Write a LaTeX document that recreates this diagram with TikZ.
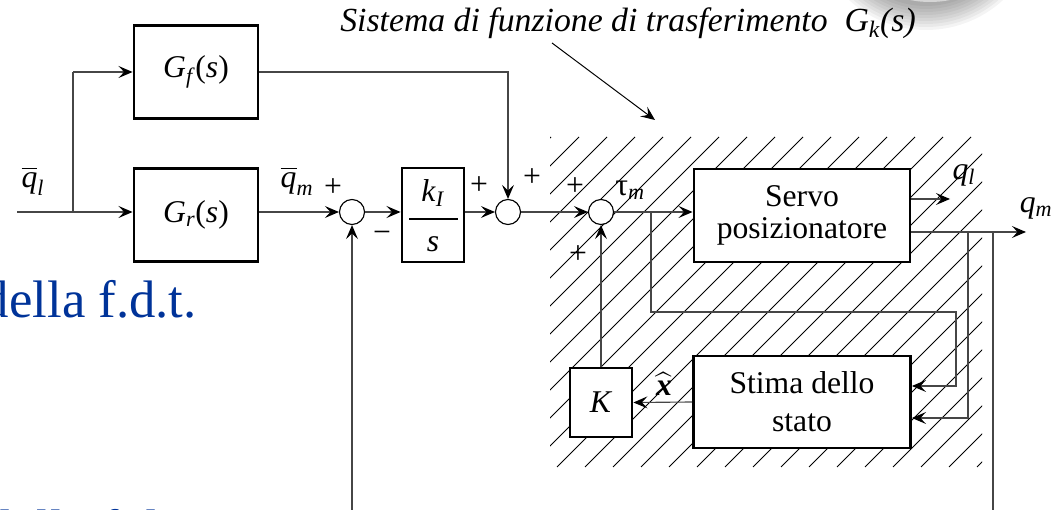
\documentclass[tikz,border=0pt]{standalone}
\usepackage{fontspec}
\usepackage{amsmath}
\setmainfont{Liberation Serif}
\usetikzlibrary{arrows.meta,calc}
\definecolor{slideblue}{RGB}{0,51,153}
\definecolor{linegray}{RGB}{70,70,70}
\tikzset{
  blk/.style={draw, line width=2pt, fill=white, inner sep=0pt, align=center},
  sumnode/.style={circle, draw, line width=0.8pt, fill=white, minimum size=0.625cm, inner sep=0pt},
  conn/.style={line width=0.8pt, draw=linegray},
  tip/.tip={Stealth[length=10pt,width=8.5pt,inset=4pt,black]},
  arr/.style={conn, -tip},
  hatchline/.style={line width=0.55pt, draw=black},
  lbl/.style={inner sep=0pt},
  every node/.style={font=\fontsize{22.5}{24}\selectfont}
}
\begin{document}
\begin{tikzpicture}[x=0.025cm, y=-0.025cm]
\useasboundingbox (0,0) rectangle (1057,510);
\clip (0,0) rectangle (1057,510);

% soft shadow at top right
\foreach \r in {114,111,108,105,102,99,96,93,90}{
  \fill[black, opacity=0.045] (926,-84) circle (\r);
}
\fill[white, opacity=0.5] (930,-98) circle (100);
\fill[white] (930,-104) circle (96);

% hatched region
\begin{scope}
  \clip (550,137) rectangle (982,467);
  \foreach \c in {221,249,...,985}{
    \draw[hatchline] (\c,467) -- (\c+330,137);
  }
\end{scope}

% coordinates
\coordinate (in) at (17,212);
\coordinate (br1) at (73,212);
\coordinate (br2) at (651,212);
\coordinate (ql) at (950,199);
\coordinate (qm) at (1026,232);
\coordinate (bq1) at (968,232);
\coordinate (bq2) at (993,232);
\coordinate (bot) at (993,540);
\coordinate (ptA) at (552,43);
\coordinate (ptB) at (655,120);

% blocks
\node[blk, minimum width=3.1cm, minimum height=2.325cm] (gf) at (196,72) {\textit{G}\textsubscript{\textit{f}}(\textit{s})};
\node[blk, minimum width=3.1cm, minimum height=2.325cm] (gr) at (196,215) {\textit{G}\textsubscript{\textit{r}}(\textit{s})};
\node[blk, minimum width=1.55cm, minimum height=2.35cm] (kb) at (433,215) {};
\node[blk, minimum width=5.4cm, minimum height=2.325cm, font=\fontsize{22.5}{22.5}\selectfont] (servo) at (802,215.5) {Servo\\posizionatore};
\node[blk, minimum width=5.425cm, minimum height=2.3cm, font=\fontsize{22.5}{27}\selectfont] (stima) at (802,402) {Stima dello\\stato};
\node[blk, minimum width=1.55cm, minimum height=1.725cm] (K) at (601,402.5) {\textit{K}};

% sums
\node[sumnode] (s1) at (352,212) {};
\node[sumnode] (s2) at (508,212) {};
\node[sumnode] (s3) at (601,212) {};

% connectors
\draw[arr] (in) -- (in -| gr.west);
\draw[conn] (br1) -- (br1 |- gf.west);
\draw[arr] (br1 |- gf.west) -- (gf.west);
\draw[arr] (gr.east |- s1) -- (s1.west);
\draw[arr] (s1.east) -- (s1 -| kb.west);
\draw[arr] (kb.east |- s2) -- (s2.west);
\draw[arr] (gf.east) -| (s2.north);
\draw[arr] (s2.east) -- (s3.west);
\draw[arr] (s3.east) -- (s3 -| servo.west);
\draw[arr] (br2) -- (651,312) -- (956,312) -- (956,386) -- (stima.east |- 0,386);
\draw[arr] (servo.east |- ql) -- (ql);
\draw[arr] (servo.east |- qm) -- (qm);
\draw[arr] (bq1) -- (968,418) -- (stima.east |- 0,418);
\draw[arr] (bq2) -- (bot) -- (bot -| s1) -- (s1.south);
\draw[arr] (stima.west) -- (K.east);
\draw[arr] (K.north) -- (s3.south);
\draw[line width=0.7pt, -tip] (ptA) -- (ptB);

% fraction in integrator
\draw[line width=0.8pt] (409,219) -- (458,219);
\node[lbl] (kI) at (433,193) {\textit{k}\textsubscript{\textit{I}}};
\node[lbl] (ks) at (433,244) {\textit{s}};

% signs and labels
\node[lbl] (p1) at (333,188) {+};
\node[lbl] (m1) at (382,237) {−};
\node[lbl] (p2) at (479,186) {+};
\node[lbl] (p3) at (532,178) {+};
\node[lbl] (p4) at (575,187) {+};
\node[lbl] (p5) at (578,255) {+};
\node[lbl] (tau) at (630,190) {τ\textsubscript{\textit{m}}};
\node[lbl] (qlbar) at (33,181) {$\overline{\text{\itshape q}}_{\text{\itshape l}}$};
\node[lbl] (qmbar) at (297,181) {$\overline{\text{\itshape q}}_{\text{\itshape m}}$};
\node[lbl] (qllab) at (964,175) {\textit{q}\textsubscript{\textit{l}}};
\node[lbl] (qmlab) at (1036,208) {\textit{q}\textsubscript{\textit{m}}};
\node[lbl] (xhat) at (664,384) {$\widehat{\text{\bfseries\itshape x}}$};

% title
\node[lbl, anchor=base, font=\fontsize{24}{26}\selectfont\itshape] (title) at (628,32) {Sistema di funzione di trasferimento\enspace G\textsubscript{k}(s)};

% slide text (cropped)
\node[lbl, anchor=base east, text=slideblue, font=\fontsize{37.5}{40}\selectfont] (txt1) at (197,318) {della f.d.t.};
\node[lbl, anchor=base west, text=slideblue, font=\fontsize{37.5}{40}\selectfont] (txt2) at (-14,546) {della f.d.t.};
\end{tikzpicture}
\end{document}
